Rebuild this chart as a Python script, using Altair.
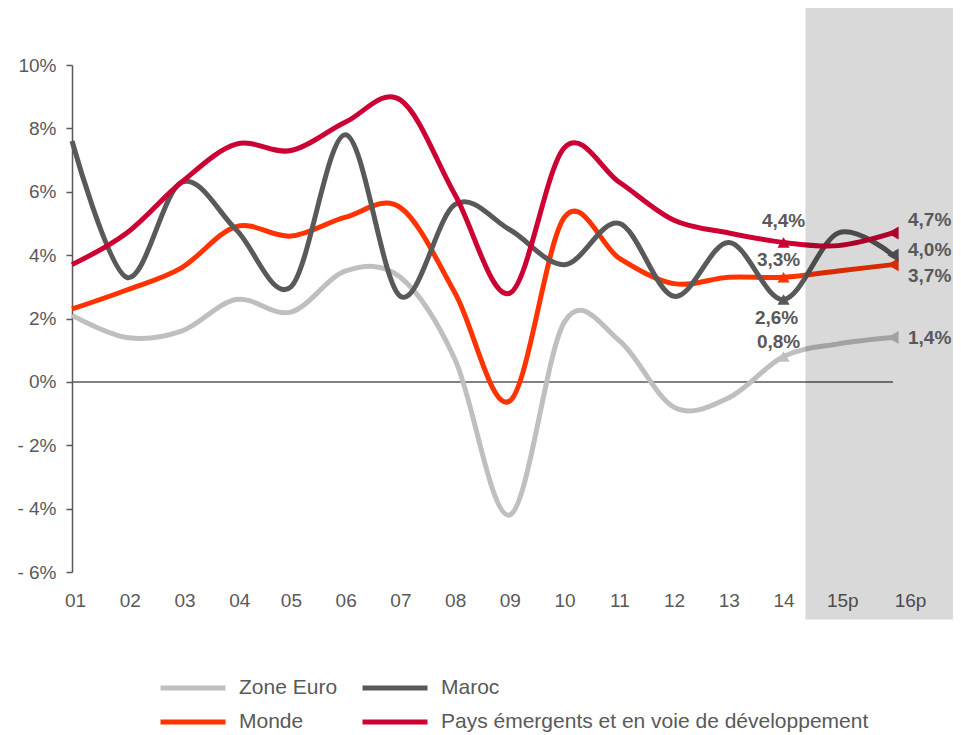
import json
import altair as alt
import pandas as pd

x_labels = ["01", "02", "03", "04", "05", "06", "07", "08", "09", "10",
            "11", "12", "13", "14", "15p", "16p"]
series_names = ["Zone Euro", "Maroc", "Monde",
                "Pays émergents et en voie de développement"]
zone_euro = [2.1, 1.4, 1.6, 2.6, 2.2, 3.5, 3.3, 0.7, -4.2, 1.9, 1.3, -0.8, -0.5, 0.8, 1.2, 1.4]
maroc = [7.6, 3.3, 6.3, 4.8, 3.0, 7.8, 2.7, 5.6, 4.8, 3.7, 5.0, 2.7, 4.4, 2.6, 4.7, 4.0]
monde = [2.3, 2.9, 3.6, 4.9, 4.6, 5.2, 5.5, 2.8, -0.6, 5.2, 3.9, 3.1, 3.3, 3.3, 3.5, 3.7]
emergents = [3.7, 4.7, 6.3, 7.5, 7.3, 8.2, 8.9, 5.9, 2.8, 7.4, 6.3, 5.1, 4.7, 4.4, 4.3, 4.7]
colors = ["#bfbfbf", "#595959", "#ff3300", "#cc0033"]
draw_order = ["Zone Euro", "Monde", "Maroc", "Pays émergents et en voie de développement"]
# legend fills column by column: this order gives rows (Zone Euro, Maroc) / (Monde, Pays ...)
legend_order = ["Zone Euro", "Monde", "Maroc", "Pays émergents et en voie de développement"]

values = dict(zip(series_names, [zone_euro, maroc, monde, emergents]))
color_of = dict(zip(series_names, colors))
rows = []
for order, name in enumerate(draw_order):
    for i, v in enumerate(values[name]):
        rows.append({"idx": i + 1, "label": x_labels[i], "serie": name, "v": v, "o": order})
df = pd.DataFrame(rows)

TXT = "#595959"
FONT = "Liberation Sans"

xscale = alt.Scale(domain=[1, 16], nice=False, zero=False)
yscale = alt.Scale(domain=[-6, 10], nice=False, zero=False)
cscale = alt.Scale(domain=legend_order, range=[color_of[n] for n in legend_order])
color = alt.Color("serie:N", scale=cscale,
                  legend=alt.Legend(title=None, orient="none", legendX=86, legendY=606,
                                    columns=2, columnPadding=22, rowPadding=0,
                                    symbolType="stroke", symbolSize=4225,
                                    symbolStrokeWidth=5, clipHeight=34,
                                    labelFontSize=21, labelColor=TXT, labelFont=FONT,
                                    labelOffset=11, labelLimit=600))

x_axis = alt.Axis(values=list(range(1, 17)),
                  labelExpr=f"{json.dumps(x_labels)}[datum.value - 1]",
                  domain=False, ticks=False, grid=False, labelPadding=19,
                  labelFlush=False, labelOverlap=False,
                  labelFontSize=19, labelColor=TXT, labelFont=FONT, title=None,
                  labelOffset={"condition": [{"test": "datum.value == 16", "value": 17},
                                             {"test": "datum.value == 15", "value": 4},
                                             {"test": "datum.value <= 4", "value": 3}],
                               "value": 0})
y_axis = alt.Axis(values=list(range(-6, 11, 2)),
                  labelExpr="datum.value < 0 ? '- ' + abs(datum.value) + '%' : datum.value + '%'",
                  grid=False, domainColor=TXT, domainWidth=1.5, tickColor=TXT,
                  tickWidth=1.5, tickSize=6, labelPadding=10, labelFontSize=19,
                  labelColor=TXT, labelFont=FONT, title=None)

base = alt.Chart(df)

lines = base.mark_line(strokeWidth=5, interpolate="cardinal").encode(
    x=alt.X("idx:Q", scale=xscale, axis=x_axis),
    y=alt.Y("v:Q", scale=yscale, axis=y_axis),
    color=color,
    detail="serie:N",
    order="idx:Q",
)

zero_df = pd.DataFrame({"x": [1], "x2": [16], "y": [0]})
zero_rule = alt.Chart(zero_df).mark_rule(color=TXT, strokeWidth=1.5).encode(
    x=alt.X("x:Q", scale=xscale), x2="x2:Q", y=alt.Y("y:Q", scale=yscale))

tri = base.transform_filter("datum.idx == 14").mark_point(
    shape="triangle-up", filled=True, opacity=1, size=150).encode(
    x=alt.X("idx:Q", scale=xscale), y=alt.Y("v:Q", scale=yscale),
    color=alt.Color("serie:N", scale=cscale, legend=None))
end = base.transform_filter("datum.idx == 16").mark_point(
    shape="triangle-left", filled=True, opacity=1, size=170).encode(
    x=alt.X("idx:Q", scale=xscale), y=alt.Y("v:Q", scale=yscale),
    color=alt.Color("serie:N", scale=cscale, legend=None))

forecast_start, forecast_end = 14.4, 17.4
shade_df = pd.DataFrame({"x": [forecast_start], "x2": [forecast_end], "y": [-7.5], "y2": [13]})
shade = alt.Chart(shade_df).mark_rect(color="#000000", opacity=0.15).encode(
    x=alt.X("x:Q", scale=xscale), x2="x2:Q",
    y=alt.Y("y:Q", scale=yscale), y2="y2:Q")

# annotation labels: (series, index, dx, dy, align)
annots = [
    ("Pays émergents et en voie de développement", 14, 0, -21, "center"),
    ("Monde", 14, -5, -17, "center"),
    ("Maroc", 14, -7, 19, "center"),
    ("Zone Euro", 14, -5, -15, "center"),
    ("Pays émergents et en voie de développement", 16, 15, -13, "left"),
    ("Maroc", 16, 15, -5, "left"),
    ("Monde", 16, 15, 11, "left"),
    ("Zone Euro", 16, 15, 0, "left"),
]
texts = []
for name, idx, dx, dy, al in annots:
    t = base.transform_filter(
        f"datum.serie == {json.dumps(name)} && datum.idx == {idx}"
    ).transform_calculate(
        txt="replace(format(datum.v, '.1f'), '.', ',') + '%'"
    ).mark_text(dx=dx, dy=dy, align=al, baseline="middle", fontSize=19,
                fontWeight="bold", color=TXT, font=FONT).encode(
        x=alt.X("idx:Q", scale=xscale), y=alt.Y("v:Q", scale=yscale), text="txt:N")
    texts.append(t)

chart = alt.layer(zero_rule, lines, tri, end, shade, *texts).properties(
    width=821, height=507,
    padding={"left": 64, "top": 57, "right": 60, "bottom": 160},
    autosize=alt.AutoSizeParams(type="none"),
).configure(font=FONT).configure_view(stroke=None)

chart.save("out.html", embed_options={"renderer": "svg", "actions": False})
